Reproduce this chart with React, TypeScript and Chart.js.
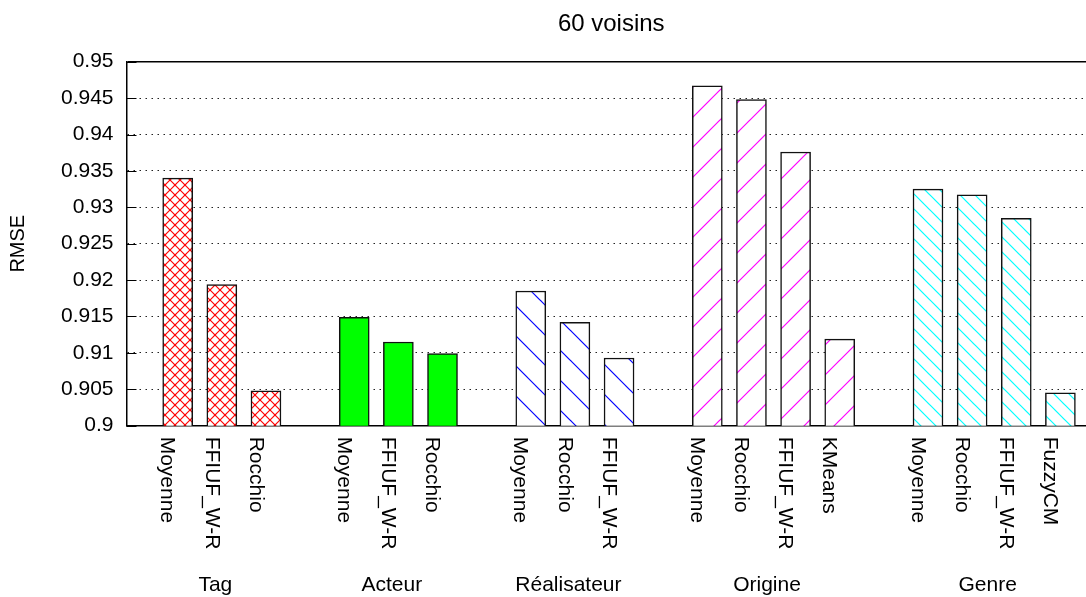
import React, { useEffect, useRef } from 'react';
import { Chart, registerables } from 'chart.js';

Chart.register(...registerables);

const FONT = "'Liberation Sans', Arial, Helvetica, sans-serif";

const chartTitle = '60 voisins';
const yAxisTitle = 'RMSE';

const groupNames = ['Tag', 'Acteur', 'Réalisateur', 'Origine', 'Genre'];

const tagMethods = ['Moyenne', 'FFIUF_W-R', 'Rocchio'];
const tagValues = [0.934, 0.9194, 0.9048];

const acteurMethods = ['Moyenne', 'FFIUF_W-R', 'Rocchio'];
const acteurValues = [0.9149, 0.9115, 0.9099];

const realisateurMethods = ['Moyenne', 'Rocchio', 'FFIUF_W-R'];
const realisateurValues = [0.9185, 0.9142, 0.9093];

const origineMethods = ['Moyenne', 'Rocchio', 'FFIUF_W-R', 'KMeans'];
const origineValues = [0.9467, 0.9448, 0.9376, 0.9119];

const genreMethods = ['Moyenne', 'Rocchio', 'FFIUF_W-R', 'FuzzyCM'];
const genreValues = [0.9325, 0.9317, 0.9285, 0.9045];

const yTickValues = [0.9, 0.905, 0.91, 0.915, 0.92, 0.925, 0.93, 0.935, 0.94, 0.945, 0.95];
const yTickLabels = ['0.9', '0.905', '0.91', '0.915', '0.92', '0.925', '0.93', '0.935', '0.94', '0.945', '0.95'];
const yMin = 0.9;
const yMax = 0.95;

// x range in slot units (one slot per bar, one empty slot between groups)
const xMin = -1.16;
const xMax = 20.58;

type Kind = 'cross' | 'solid' | 'back' | 'fwd';
const groupStyles: { kind: Kind; color: string; period: number }[] = [
  { kind: 'cross', color: '#ff0000', period: 10 },
  { kind: 'solid', color: '#00ff00', period: 0 },
  { kind: 'back', color: '#0000ff', period: 30 },
  { kind: 'fwd', color: '#ff00ff', period: 30 },
  { kind: 'back', color: '#00ffff', period: 15 },
];

const groupMethods = [tagMethods, acteurMethods, realisateurMethods, origineMethods, genreMethods];
const groupValues = [tagValues, acteurValues, realisateurValues, origineValues, genreValues];

function makeFill(kind: Kind, color: string, P: number): any {
  if (kind === 'solid') return color;
  const c = document.createElement('canvas');
  c.width = P;
  c.height = P;
  const g = c.getContext('2d')!;
  g.fillStyle = '#ffffff';
  g.fillRect(0, 0, P, P);
  g.strokeStyle = color;
  g.lineWidth = 1.2;
  const seg = (a: number, b: number, d: number, e: number) => {
    g.beginPath();
    g.moveTo(a, b);
    g.lineTo(d, e);
    g.stroke();
  };
  if (kind === 'back' || kind === 'cross') {
    seg(-1, -1, P + 1, P + 1);
    seg(-2, P - 2, 2, P + 2);
    seg(P - 2, -2, P + 2, 2);
  }
  if (kind === 'fwd' || kind === 'cross') {
    seg(-1, P + 1, P + 1, -1);
    seg(-2, 2, 2, -2);
    seg(P - 2, P + 2, P + 2, P - 2);
  }
  return g.createPattern(c, 'repeat');
}

export default function App() {
  const ref = useRef<HTMLCanvasElement | null>(null);

  useEffect(() => {
    if (!ref.current) return;

    // slot index of each bar: consecutive within a group, one empty slot between groups
    const slots: number[][] = [];
    let s = 0;
    groupMethods.forEach((m) => {
      slots.push(m.map((_, i) => s + i));
      s += m.length + 1;
    });

    const datasets = groupNames.map((name, gi) => {
      const st = groupStyles[gi];
      return {
        label: name,
        data: groupValues[gi].map((v, i) => ({ x: slots[gi][i], y: v })),
        backgroundColor: makeFill(st.kind, st.color, st.period),
        borderColor: '#111111',
        borderWidth: 1.5,
        borderSkipped: false as const,
        barThickness: 30,
        grouped: false,
      };
    });

    const labelsPlugin = {
      id: 'customLabels',
      afterDatasetsDraw(chart: any) {
        // short solid inner tick marks on the left axis
        const ctx = chart.ctx as CanvasRenderingContext2D;
        const ys = chart.scales.y;
        const area = chart.chartArea;
        ctx.save();
        ctx.strokeStyle = '#000000';
        ctx.lineWidth = 1;
        yTickValues.forEach((v) => {
          const py = Math.round(ys.getPixelForValue(v)) + 0.5;
          ctx.beginPath();
          ctx.moveTo(area.left, py);
          ctx.lineTo(area.left + 10, py);
          ctx.stroke();
        });
        ctx.restore();
      },
      afterDraw(chart: any) {
        const ctx = chart.ctx as CanvasRenderingContext2D;
        const xs = chart.scales.x;
        const area = chart.chartArea;
        ctx.save();
        ctx.fillStyle = '#000000';

        // title
        ctx.font = `24px ${FONT}`;
        ctx.textAlign = 'center';
        ctx.textBaseline = 'alphabetic';
        ctx.fillText(chartTitle, (area.left + area.right) / 2 + 5, 30.5);

        // method labels, rotated clockwise
        ctx.font = `21px ${FONT}`;
        groupMethods.forEach((methods, gi) => {
          methods.forEach((m, i) => {
            const px = xs.getPixelForValue(slots[gi][i]);
            ctx.save();
            ctx.translate(px, area.bottom + 11);
            ctx.rotate(Math.PI / 2);
            ctx.textAlign = 'left';
            ctx.textBaseline = 'top';
            ctx.fillText(m, 0, 0);
            ctx.restore();
          });
        });

        // group labels
        ctx.textAlign = 'center';
        ctx.textBaseline = 'alphabetic';
        groupNames.forEach((g, gi) => {
          const sl = slots[gi];
          const mid = (sl[0] + sl[sl.length - 1]) / 2;
          const px = xs.getPixelForValue(mid) - 6.5;
          ctx.fillText(g, px, 591);
        });
        ctx.restore();
      },
    };

    const chart = new Chart(ref.current, {
      type: 'bar',
      data: { datasets: datasets as any },
      options: {
        animation: false,
        responsive: false,
        layout: { padding: { top: 61.7, right: 0, bottom: 0, left: 0 } },
        plugins: {
          legend: { display: false },
          title: { display: false },
          tooltip: { enabled: false },
        },
        scales: {
          x: {
            type: 'linear',
            min: xMin,
            max: xMax,
            offset: false,
            grid: { display: false, offset: false },
            ticks: { display: false },
            border: { display: true, color: '#000000', width: 1.5 },
            afterBuildTicks: (scale: any) => {
              scale.ticks = [];
            },
            afterFit: (scale: any) => {
              scale.height = 597 - 425.7;
            },
          },
          y: {
            type: 'linear',
            min: yMin,
            max: yMax,
            beginAtZero: false,
            afterBuildTicks: (scale: any) => {
              scale.ticks = yTickValues.map((v) => ({ value: v }));
            },
            afterFit: (scale: any) => {
              scale.width = 126.5;
            },
            ticks: {
              color: '#000000',
              font: { family: FONT, size: 21 },
              padding: 13,
              callback: (_v: any, i: number) => yTickLabels[i],
            },
            grid: {
              color: (c: any) => (c.tick && c.tick.value >= yMax - 1e-9 ? '#000000' : '#222222'),
              lineWidth: (c: any) => (c.tick && c.tick.value >= yMax - 1e-9 ? 1.5 : 1),
              drawTicks: false,
            },
            border: {
              display: true,
              color: '#000000',
              width: 1.5,
              dash: (c: any) => (c.tick && c.tick.value >= yMax - 1e-9 ? [] : [1.5, 4.5]),
            },
            title: {
              display: true,
              text: yAxisTitle,
              color: '#000000',
              font: { family: FONT, size: 20 },
              padding: { top: 6.5, bottom: 0 },
            },
          },
        },
      },
      plugins: [labelsPlugin],
    });

    return () => chart.destroy();
  }, []);

  return (
    <div style={{ position: 'fixed', left: 0, top: 0, width: 1086, height: 597, background: '#ffffff' }}>
      <canvas ref={ref} width={1086} height={597} />
    </div>
  );
}
